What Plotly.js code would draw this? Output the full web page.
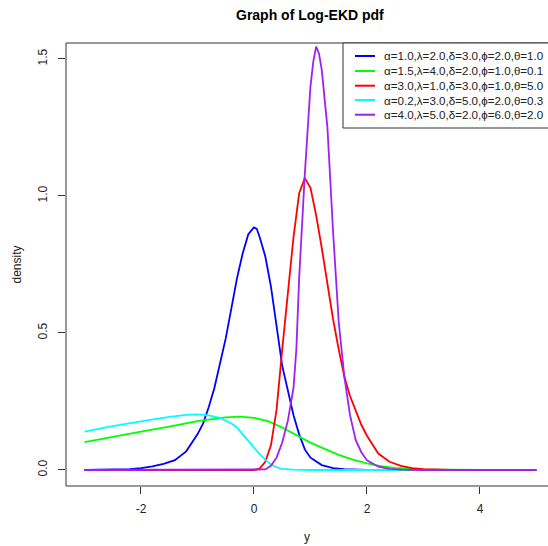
<!DOCTYPE html>
<html>
<head>
<meta charset="utf-8">
<script src="https://cdn.plot.ly/plotly-3.0.1.min.js"></script>
<style>html,body{margin:0;padding:0;background:#fff;}</style>
</head>
<body>
<div id="chart" style="width:548px;height:546px;"></div>
<script>
// Series 1: blue
const x1 = [-3, -2.5, -2.2, -2, -1.8, -1.6, -1.4, -1.2, -1.0, -0.9, -0.8, -0.7, -0.6, -0.5, -0.4, -0.3, -0.2, -0.1, 0, 0.05, 0.1, 0.2, 0.3, 0.4, 0.5, 0.6, 0.7, 0.8, 0.9, 1.0, 1.2, 1.4, 1.6, 2, 3, 5];
const y1 = [0, 0.001, 0.003, 0.007, 0.013, 0.022, 0.036, 0.068, 0.13, 0.17, 0.23, 0.30, 0.39, 0.48, 0.59, 0.70, 0.79, 0.86, 0.885, 0.88, 0.85, 0.78, 0.67, 0.53, 0.38, 0.29, 0.20, 0.13, 0.075, 0.045, 0.018, 0.007, 0.003, 0.0005, 0, 0];
// Series 2: green
const x2 = [-3, -2.5, -2, -1.5, -1, -0.5, -0.25, 0, 0.25, 0.5, 0.75, 1, 1.25, 1.5, 1.75, 2, 2.25, 2.5, 3, 3.5, 4, 5];
const y2 = [0.102, 0.122, 0.14, 0.158, 0.178, 0.192, 0.195, 0.19, 0.178, 0.155, 0.128, 0.10, 0.077, 0.055, 0.038, 0.024, 0.014, 0.008, 0.002, 0.0005, 0.0001, 0];
// Series 3: red
const x3 = [-3, 0, 0.1, 0.2, 0.3, 0.4, 0.5, 0.6, 0.7, 0.8, 0.9, 1.0, 1.1, 1.2, 1.3, 1.4, 1.5, 1.6, 1.7, 1.8, 1.9, 2.0, 2.1, 2.2, 2.4, 2.6, 2.8, 3, 3.5, 5];
const y3 = [0, 0, 0.005, 0.03, 0.09, 0.22, 0.44, 0.65, 0.85, 1.01, 1.065, 1.03, 0.93, 0.81, 0.68, 0.55, 0.44, 0.34, 0.27, 0.215, 0.165, 0.125, 0.09, 0.06, 0.03, 0.015, 0.007, 0.003, 0.0005, 0];
// Series 4: cyan
const x4 = [-3, -2.5, -2, -1.5, -1.2, -1, -0.8, -0.6, -0.4, -0.3, -0.2, -0.1, 0, 0.1, 0.2, 0.3, 0.4, 0.5, 0.7, 1, 5];
const y4 = [0.14, 0.16, 0.177, 0.194, 0.201, 0.203, 0.199, 0.19, 0.17, 0.155, 0.13, 0.105, 0.08, 0.058, 0.038, 0.02, 0.01, 0.004, 0.001, 0, 0];
// Series 5: purple
const x5 = [-3, 0.2, 0.3, 0.4, 0.5, 0.6, 0.7, 0.75, 0.8, 0.9, 1.0, 1.05, 1.1, 1.15, 1.2, 1.3, 1.4, 1.5, 1.6, 1.7, 1.8, 1.9, 2.0, 2.2, 2.4, 2.6, 3, 5];
const y5 = [0, 0.002, 0.015, 0.045, 0.10, 0.18, 0.30, 0.44, 0.70, 1.08, 1.40, 1.49, 1.545, 1.52, 1.46, 1.25, 0.87, 0.54, 0.34, 0.20, 0.11, 0.065, 0.035, 0.012, 0.004, 0.001, 0, 0];

const names = [
  "α=1.0,λ=2.0,δ=3.0,ϕ=2.0,θ=1.0",
  "α=1.5,λ=4.0,δ=2.0,ϕ=1.0,θ=0.1",
  "α=3.0,λ=1.0,δ=3.0,ϕ=1.0,θ=5.0",
  "α=0.2,λ=3.0,δ=5.0,ϕ=2.0,θ=0.3",
  "α=4.0,λ=5.0,δ=2.0,ϕ=6.0,θ=2.0"
];
const colors = ["#0000FF", "#00FF00", "#FF0000", "#00FFFF", "#A020F0"];
const xs = [x1, x2, x3, x4, x5];
const ys = [y1, y2, y3, y4, y5];

const traces = xs.map((x, i) => ({
  x: x, y: ys[i], type: "scatter", mode: "lines", name: names[i],
  line: {color: colors[i], width: 1.8}
}));

const FAM = "Liberation Sans, Arial, sans-serif";
const font = {family: FAM, size: 12, color: "#222"};

// Legend drawn as shapes + annotations (paper coordinates)
const legRowsY = [0.9707, 0.9368, 0.9036, 0.8713, 0.8381];
const shapes = [{
  type: "rect", xref: "paper", yref: "paper", x0: 0, x1: 1.05, y0: 0, y1: 1,
  line: {color: "#333", width: 1}, fillcolor: "rgba(0,0,0,0)", layer: "above"
}, {
  type: "rect", xref: "paper", yref: "paper", x0: 0.5747, x1: 1.05, y0: 0.8081, y1: 1,
  line: {color: "#333", width: 1}, fillcolor: "#fff", layer: "above"
}];
const annotations = [];
names.forEach((n, i) => {
  shapes.push({
    type: "line", xref: "paper", yref: "paper", x0: 0.5996, x1: 0.6411,
    y0: legRowsY[i], y1: legRowsY[i], line: {color: colors[i], width: 2}, layer: "above"
  });
  annotations.push({
    xref: "paper", yref: "paper", x: 0.6556, y: legRowsY[i], xanchor: "left", yanchor: "middle",
    text: n, showarrow: false, font: {family: FAM, size: 11.6, color: "#222"}
  });
});

const layout = {
  width: 548, height: 546,
  margin: {l: 66, r: 0, t: 43, b: 60},
  paper_bgcolor: "#fff", plot_bgcolor: "#fff",
  font: font,
  showlegend: false,
  title: {
    text: "<b>Graph of Log-EKD pdf</b>",
    font: {family: FAM, size: 14, color: "#000"},
    xref: "paper", x: 0.506, xanchor: "center",
    yref: "container", y: 0.973, yanchor: "middle"
  },
  xaxis: {
    range: [-3.327, 5.204], tickvals: [-2, 0, 2, 4], ticktext: ["-2", "0", "2", "4"],
    ticks: "outside", ticklen: 7, tickcolor: "#333", tickwidth: 1,
    showgrid: false, zeroline: false, showline: false,
    ticklabelstandoff: 5,
    title: {text: "y", font: {size: 12, color: "#222"}, standoff: 17}
  },
  yaxis: {
    range: [-0.0584, 1.558], tickvals: [0, 0.5, 1.0, 1.5], ticktext: ["0.0", "0.5", "1.0", "1.5"],
    ticks: "outside", ticklen: 7, tickcolor: "#333", tickwidth: 1, tickangle: -90,
    showgrid: false, zeroline: false, showline: false,
    ticklabelstandoff: 6,
    title: {text: "density", font: {size: 12, color: "#222"}, standoff: 12}
  },
  shapes: shapes,
  annotations: annotations
};

Plotly.newPlot("chart", traces, layout, {displayModeBar: false, staticPlot: true});
</script>
</body>
</html>
